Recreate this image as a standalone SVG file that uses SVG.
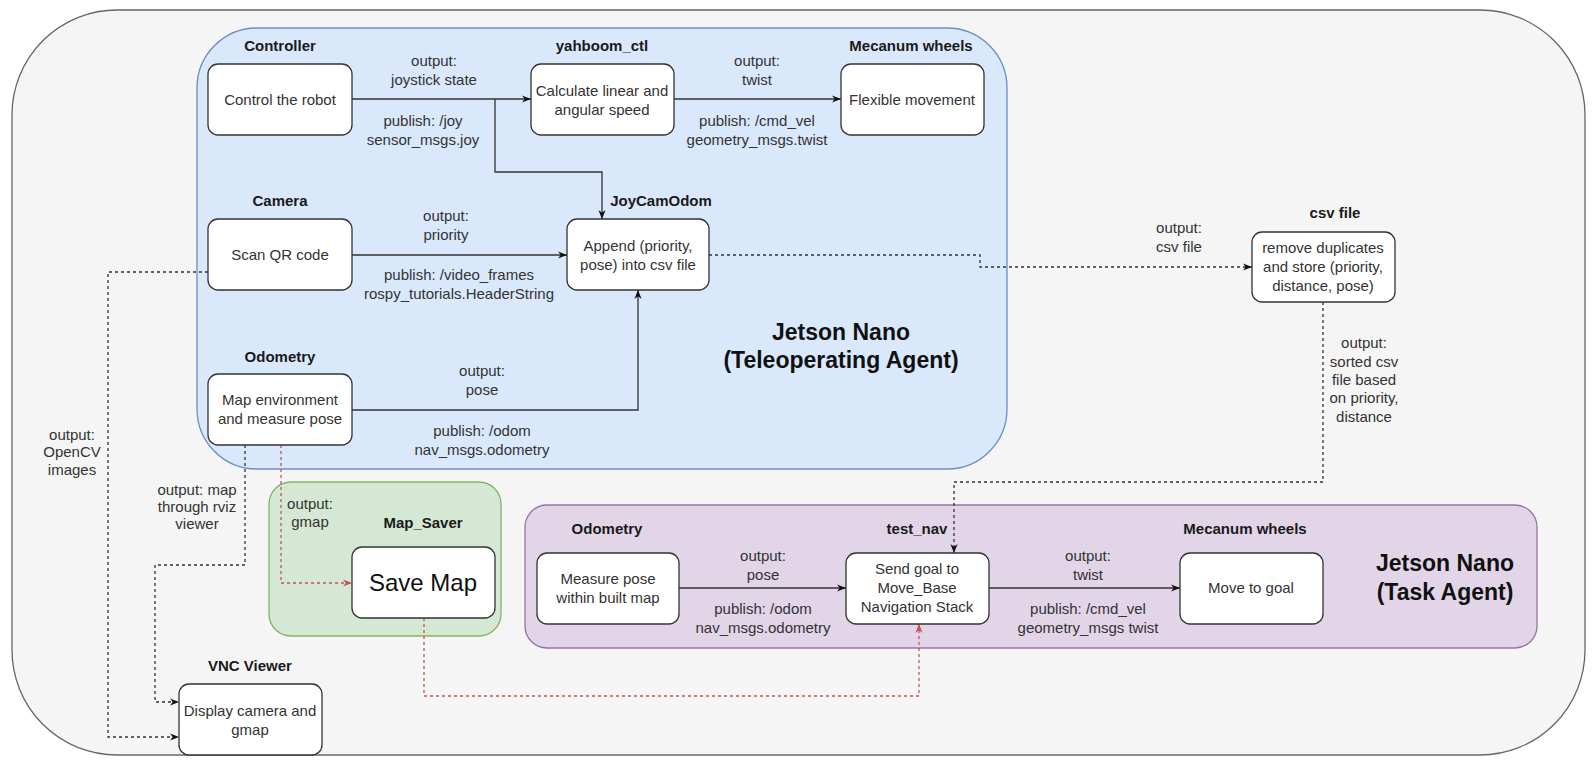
<svg xmlns="http://www.w3.org/2000/svg" width="1595" height="768" viewBox="0 0 1595 768">
<defs>
<style>
text{font-family:"Liberation Sans",Arial,sans-serif;font-size:15px;fill:#333;text-anchor:middle}
.b{font-weight:bold;fill:#1a1a1a}
.big{font-weight:bold;font-size:23px;fill:#111}
.node{fill:#fff;stroke:#333;stroke-width:1.3}
.e{fill:none;stroke:#333;stroke-width:1.3}
.d{stroke-dasharray:3 3}
.r{stroke:#c9524e}
</style>
<marker id="a" viewBox="0 0 10 10" refX="10" refY="5" markerWidth="9" markerHeight="9" markerUnits="userSpaceOnUse" orient="auto"><path d="M0,1 L10,5 L0,9 L3,5 z" fill="#111"/></marker>
<marker id="ar" viewBox="0 0 10 10" refX="10" refY="5" markerWidth="9" markerHeight="9" markerUnits="userSpaceOnUse" orient="auto"><path d="M0,1 L10,5 L0,9 L3,5 z" fill="#c9524e"/></marker>
</defs>
<rect width="1595" height="768" fill="#fff"/>
<g id="outer"><rect x="12" y="10" width="1573" height="745" rx="105" fill="#f5f5f5" stroke="#666" stroke-width="1.3"/></g>
<g id="teleop"><rect x="197" y="28" width="810" height="441" rx="60" fill="#dae8fc" stroke="#6c8ebf" stroke-width="1.3"/>
<text class="big" x="841" y="340">Jetson Nano</text><text class="big" x="841" y="368">(Teleoperating Agent)</text></g>
<g id="mapsaver"><rect x="269" y="482" width="232" height="154" rx="22" fill="#d5e8d4" stroke="#82b366" stroke-width="1.3"/>
<text class="b" x="423" y="528">Map_Saver</text></g>
<g id="task"><rect x="525" y="505" width="1012" height="143" rx="22" fill="#e1d5e7" stroke="#9673a6" stroke-width="1.3"/>
<text class="big" x="1445" y="571">Jetson Nano</text><text class="big" x="1445" y="600">(Task Agent)</text></g>

<g id="connectors">
<path class="e" d="M352 99 H531" marker-end="url(#a)"/>
<path class="e" d="M495 99 V172 H602 V219" marker-end="url(#a)"/>
<path class="e" d="M674 99 H841" marker-end="url(#a)"/>
<path class="e" d="M352 255 H567" marker-end="url(#a)"/>
<path class="e" d="M352 410 H638 V290" marker-end="url(#a)"/>
<path class="e d" d="M709 255 H980 V267 H1252" marker-end="url(#a)"/>
<path class="e d" d="M1323 302 V482 H954 V553" marker-end="url(#a)"/>
<path class="e" d="M679 588 H846" marker-end="url(#a)"/>
<path class="e" d="M989 588 H1180" marker-end="url(#a)"/>
<path class="e d r" d="M281 445 V583 H352" marker-end="url(#ar)"/>
<path class="e d r" d="M424 618 V696 H919 V624" marker-end="url(#ar)"/>
<path class="e d" d="M245 445 V565 H155 V702 H179" marker-end="url(#a)"/>
<path class="e d" d="M208 272 H108 V737 H179" marker-end="url(#a)"/>
<text x="434" y="66">output:</text><text x="434" y="85">joystick state</text>
<text x="423" y="126">publish: /joy</text><text x="423" y="145">sensor_msgs.joy</text>
<text x="757" y="66">output:</text><text x="757" y="85">twist</text>
<text x="757" y="126">publish: /cmd_vel</text><text x="757" y="145">geometry_msgs.twist</text>
<text x="446" y="221">output:</text><text x="446" y="240">priority</text>
<text x="459" y="280">publish: /video_frames</text><text x="459" y="299">rospy_tutorials.HeaderString</text>
<text x="482" y="376">output:</text><text x="482" y="395">pose</text>
<text x="482" y="436">publish: /odom</text><text x="482" y="455">nav_msgs.odometry</text>
<text x="1179" y="233">output:</text><text x="1179" y="252">csv file</text>
<text x="1364" y="348">output:</text><text x="1364" y="367">sorted csv</text><text x="1364" y="385">file based</text><text x="1364" y="403">on priority,</text><text x="1364" y="422">distance</text>
<text x="72" y="440">output:</text><text x="72" y="457">OpenCV</text><text x="72" y="475">images</text>
<text x="197" y="495">output: map</text><text x="197" y="512">through rviz</text><text x="197" y="529">viewer</text>
<text x="310" y="509">output:</text><text x="310" y="527">gmap</text>
<text x="763" y="561">output:</text><text x="763" y="580">pose</text>
<text x="763" y="614">publish: /odom</text><text x="763" y="633">nav_msgs.odometry</text>
<text x="1088" y="561">output:</text><text x="1088" y="580">twist</text>
<text x="1088" y="614">publish: /cmd_vel</text><text x="1088" y="633">geometry_msgs twist</text>
</g>

<g id="controller"><text class="b" x="280" y="51">Controller</text><rect class="node" x="208" y="64" width="144" height="71" rx="10"/><text x="280" y="105">Control the robot</text></g>
<g id="yahboom_ctl"><text class="b" x="602" y="51">yahboom_ctl</text><rect class="node" x="531" y="64" width="143" height="71" rx="10"/><text x="602" y="96">Calculate linear and</text><text x="602" y="115">angular speed</text></g>
<g id="mecanum1"><text class="b" x="911" y="51">Mecanum wheels</text><rect class="node" x="841" y="64" width="143" height="71" rx="10"/><text x="912" y="105">Flexible movement</text></g>
<g id="camera"><text class="b" x="280" y="206">Camera</text><rect class="node" x="208" y="219" width="144" height="71" rx="10"/><text x="280" y="260">Scan QR code</text></g>
<g id="joycamodom"><text class="b" x="661" y="206">JoyCamOdom</text><rect class="node" x="567" y="219" width="142" height="71" rx="10"/><text x="638" y="251">Append (priority,</text><text x="638" y="270">pose) into csv file</text></g>
<g id="odometry1"><text class="b" x="280" y="362">Odometry</text><rect class="node" x="208" y="374" width="144" height="71" rx="10"/><text x="280" y="405">Map environment</text><text x="280" y="424">and measure pose</text></g>
<g id="csvfile"><text class="b" x="1335" y="218">csv file</text><rect class="node" x="1252" y="232" width="143" height="70" rx="10"/><text x="1323" y="253">remove duplicates</text><text x="1323" y="272">and store (priority,</text><text x="1323" y="291">distance, pose)</text></g>
<g id="savemap"><rect class="node" x="352" y="547" width="143" height="71" rx="10"/><text x="423" y="591" style="font-size:24px;fill:#111">Save Map</text></g>
<g id="odometry2"><text class="b" x="607" y="534">Odometry</text><rect class="node" x="537" y="553" width="142" height="71" rx="10"/><text x="608" y="584">Measure pose</text><text x="608" y="603">within built map</text></g>
<g id="test_nav"><text class="b" x="917" y="534">test_nav</text><rect class="node" x="846" y="553" width="143" height="71" rx="10"/><text x="917" y="574">Send goal to</text><text x="917" y="593">Move_Base</text><text x="917" y="612">Navigation Stack</text></g>
<g id="mecanum2"><text class="b" x="1245" y="534">Mecanum wheels</text><rect class="node" x="1180" y="553" width="143" height="71" rx="10"/><text x="1251" y="593">Move to goal</text></g>
<g id="vnc"><text class="b" x="250" y="671">VNC Viewer</text><rect class="node" x="179" y="684" width="143" height="71" rx="10"/><text x="250" y="716">Display camera and</text><text x="250" y="735">gmap</text></g>
</svg>
